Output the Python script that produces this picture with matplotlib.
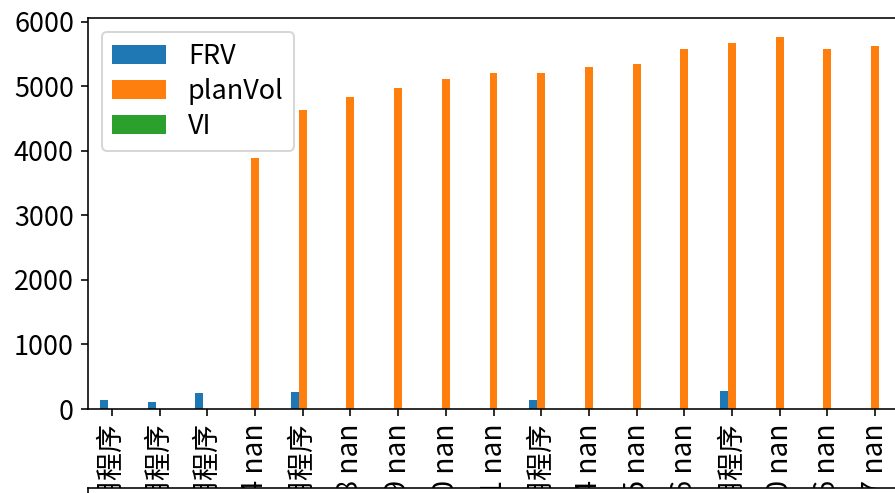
import numpy as np
import matplotlib
matplotlib.use("Agg")
import matplotlib.pyplot as plt

plt.rcParams['font.family'] = ['Noto Sans CJK SC', 'DejaVu Sans']
plt.rcParams['font.size'] = 13.5

categories = ["应用程序", "应用程序", "应用程序", "2014 nan", "应用程序",
              "2018 nan", "2019 nan", "2020 nan", "2021 nan", "应用程序",
              "2024 nan", "2025 nan", "2026 nan", "应用程序", "2030 nan",
              "2036 nan", "2037 nan"]
nan = np.nan
FRV = [139, 108, 248, nan, 263, nan, nan, nan, nan, 140, nan, nan, nan, 279, nan, nan, nan]
planVol = [nan, nan, nan, 3890, 4633, 4834, 4974, 5113, 5206, 5206, 5299, 5345,
           5578, 5671, 5764, 5578, 5625]
VI = [nan] * 17
series_names = ["FRV", "planVol", "VI"]
series = [FRV, planVol, VI]
colors = ["#1f77b4", "#ff7f0e", "#2ca02c"]

dpi = 144
fig = plt.figure(figsize=(895 / dpi, 493 / dpi), dpi=dpi)
ax = fig.add_axes([88 / 895, (493 - 409) / 493, 811 / 895, (409 - 18.3) / 493])
ax2 = fig.add_axes([88 / 895, -0.5, 811 / 895, 0.5 + (493 - 488) / 493])

n = len(categories)
x = np.arange(n)
w = 0.5 / len(series)
for i, (name, vals, c) in enumerate(zip(series_names, series, colors)):
    ax.bar(x + (i - 1) * w, np.array(vals, dtype=float), width=w, color=c, label=name)

ax.set_xlim(-0.5, n - 0.5)
ax.set_xticks(x)
ax.set_xticklabels(categories, rotation=90,
                   family=['Liberation Sans Narrow', 'Noto Sans CJK SC', 'DejaVu Sans'],
                   fontsize=14)
ax.legend(loc="upper left", fontsize=13.5, labelspacing=0.3)

ax2.set_xticks([])
ax2.set_yticks([])

fig.savefig("out.png", dpi=dpi)
